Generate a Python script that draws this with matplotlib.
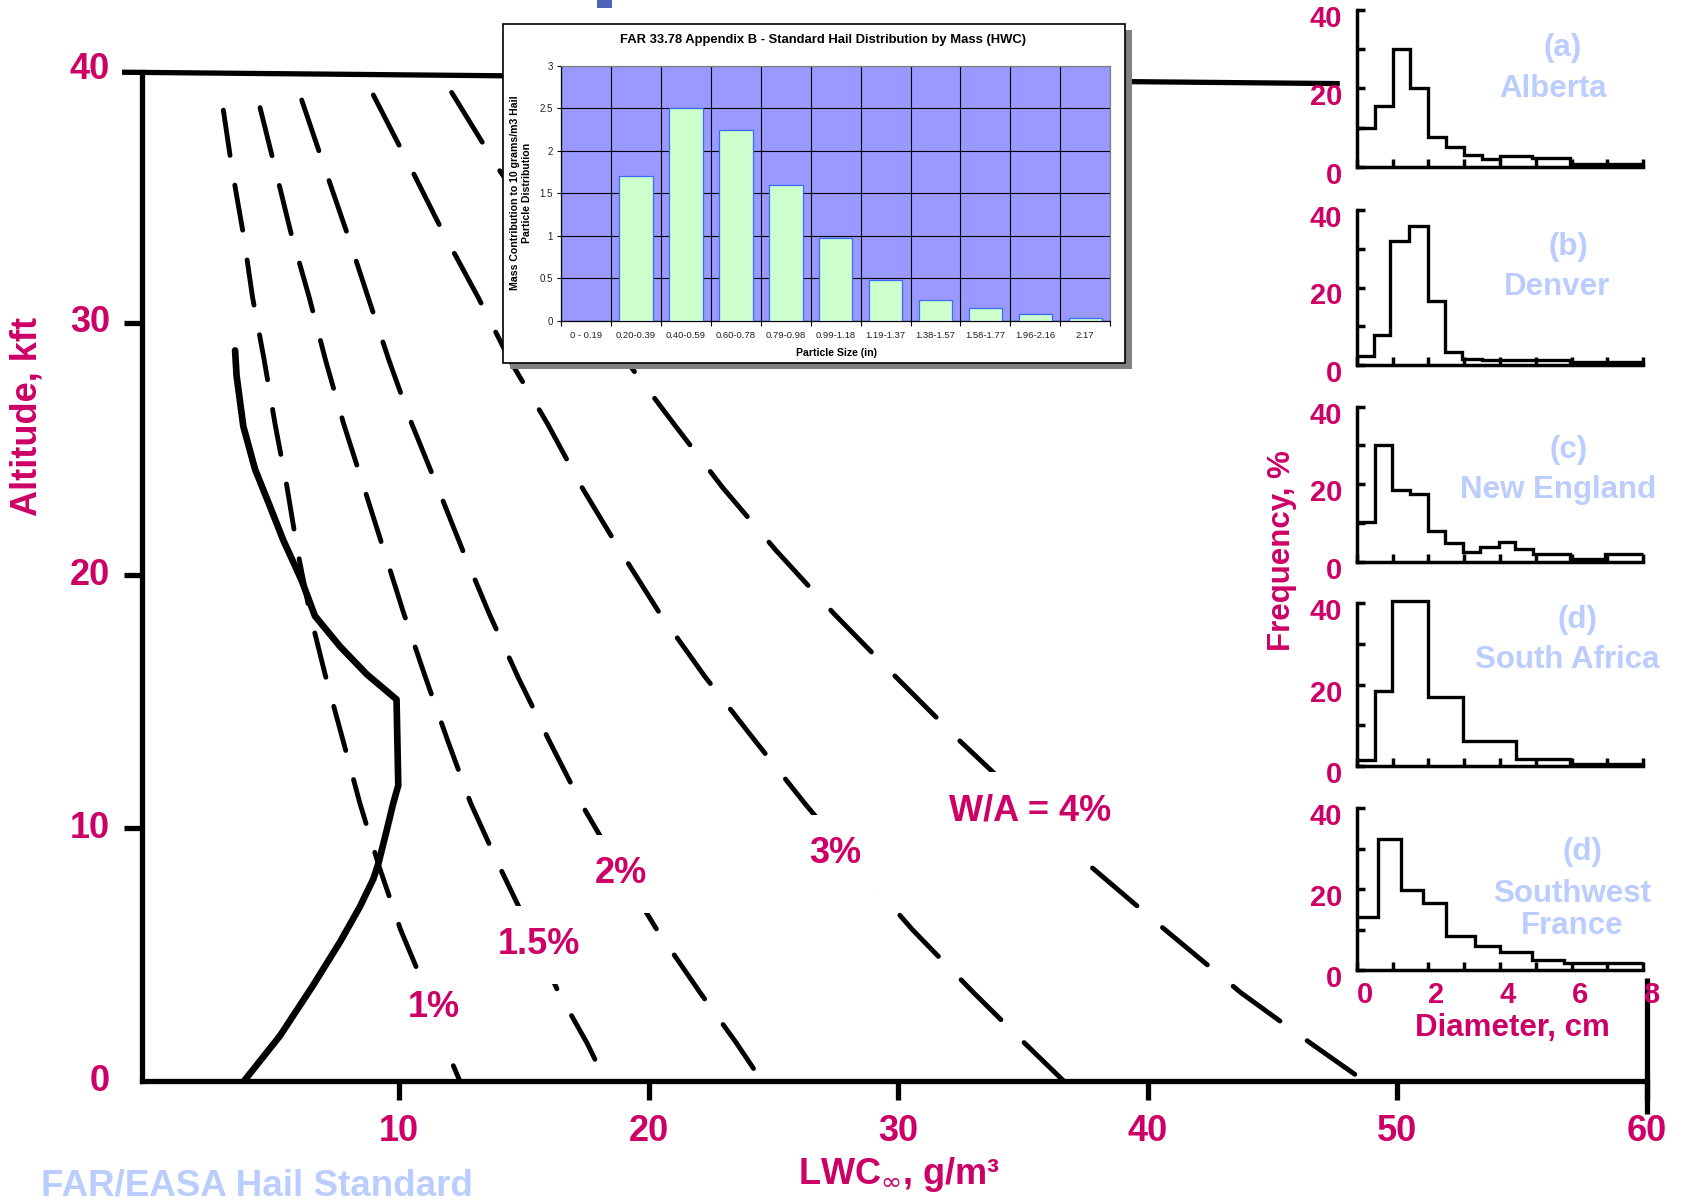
import numpy as np
import matplotlib
matplotlib.use("Agg")
import matplotlib.pyplot as plt
from matplotlib.patches import Rectangle
from matplotlib.transforms import ScaledTranslation

plt.rcParams['font.family'] = ['Liberation Sans', 'DejaVu Sans']

PINK = '#CC0066'
LBLUE = '#BBCCFF'

# ---------------- main chart: W/A curves (altitude kft vs LWC g/m3) ----------------
wa_labels = ['1%', '1.5%', '2%', '3%', 'W/A = 4%']
wa_label_lwc = [11.4, 15.6, 18.9, 27.5, 35.3]
wa_label_alt = [2.9, 5.4, 8.2, 9.0, 10.7]

alt_1 = [38.4, 36.0, 33.5, 31.0, 28.5, 26.0, 23.5, 21.0, 18.5, 16.0, 13.5, 11.0, 8.5, 6.0, 3.5, 1.5, 0.0]
lwc_1 = [2.96, 3.32, 3.76, 4.13, 4.60, 5.03, 5.51, 5.93, 6.43, 7.06, 7.75, 8.43, 9.20, 10.06, 11.12, 11.80, 12.44]

alt_15 = [38.5, 36.0, 33.5, 31.0, 28.5, 26.0, 23.5, 21.0, 18.5, 16.0, 13.5, 11.0, 8.5, 6.0, 3.5, 1.5, 0.0]
lwc_15 = [4.43, 5.06, 5.68, 6.40, 7.06, 7.78, 8.59, 9.39, 10.19, 11.05, 11.94, 12.87, 14.02, 15.24, 16.40, 17.54, 18.28]

alt_2 = [38.8, 36.0, 33.5, 31.0, 28.5, 26.0, 23.5, 21.0, 18.5, 16.0, 13.5, 11.0, 8.5, 6.0, 3.5, 1.5, 0.0]
lwc_2 = [6.10, 7.06, 7.93, 8.76, 9.60, 10.51, 11.54, 12.55, 13.61, 14.76, 16.00, 17.29, 18.77, 20.33, 22.07, 23.53, 24.55]

alt_3 = [39.0, 36.0, 33.5, 31.0, 28.5, 26.0, 23.5, 21.0, 18.5, 16.0, 13.5, 11.0, 8.5, 6.0, 3.5, 1.5, 0.0]
lwc_3 = [8.97, 10.53, 11.80, 13.17, 14.45, 15.95, 17.32, 18.85, 20.45, 22.26, 24.24, 26.25, 28.36, 30.57, 33.03, 35.08, 36.65]

alt_4 = [39.1, 36.0, 33.5, 31.0, 28.5, 26.0, 23.5, 21.0, 18.5, 16.0, 13.5, 11.0, 8.5, 6.0, 3.5, 1.5, 0.0]
lwc_4 = [12.11, 14.04, 15.80, 17.26, 19.10, 21.01, 22.95, 25.10, 27.42, 29.90, 32.43, 35.12, 37.71, 40.69, 43.74, 46.54, 48.70]

# solid curve
alt_solid = [28.9, 27.9, 25.9, 24.2, 22.9, 21.4, 19.8, 18.4, 17.2, 16.1, 15.1, 11.7, 11.0, 9.9, 8.6, 8.0, 6.9, 5.5, 3.8, 1.8, 0.0]
lwc_solid = [3.43, 3.49, 3.76, 4.23, 4.76, 5.36, 6.10, 6.63, 7.63, 8.70, 9.90, 9.97, 9.77, 9.50, 9.17, 8.97, 8.43, 7.63, 6.56, 5.23, 3.78]

main_xticks = [10, 20, 30, 40, 50, 60]
main_yticks = [0, 10, 20, 30, 40]

# ---------------- inset: FAR 33.78 standard hail distribution ----------------
inset_cats = ['0 - 0.19', '0.20-0.39', '0.40-0.59', '0.60-0.78', '0.79-0.98', '0.99-1.18',
              '1.19-1.37', '1.38-1.57', '1.58-1.77', '1.96-2.16', '2.17']
inset_mass = [0.0, 1.70, 2.50, 2.25, 1.60, 0.97, 0.48, 0.25, 0.15, 0.08, 0.03]
inset_yticks = [0, 0.5, 1, 1.5, 2, 2.5, 3]
inset_yticklabels = ['0', '0.5', '1', '1.5', '2', '2.5', '3']

# ---------------- hail size histograms (frequency % vs diameter cm) ----------------
edges_a = [0, 0.5, 1.0, 1.5, 2.0, 2.5, 3.0, 3.5, 4.0, 4.9, 5.95, 8.0]
freq_a = [10, 15.5, 30, 20, 7.5, 5, 3, 2, 2.7, 2.2, 0.7]
edges_b = [0, 0.47, 0.93, 1.47, 1.98, 2.47, 2.93, 3.5, 5.95, 8.0]
freq_b = [2.2, 7.8, 32, 36, 16.4, 3.4, 1.6, 1.2, 0.8]
edges_c = [0, 0.5, 0.98, 1.49, 1.98, 2.47, 2.96, 3.44, 3.98, 4.42, 4.93, 5.95, 6.93, 8.0]
freq_c = [10.3, 30, 18.4, 17.5, 7.8, 4.9, 2.6, 3.9, 5.0, 3.3, 1.9, 0.6, 1.9]
edges_d = [0, 0.51, 0.98, 1.98, 2.98, 4.45, 5.96, 8.0]
freq_d = [1.3, 18.3, 40.5, 17, 6.1, 1.7, 0.4]
edges_e = [0, 0.6, 1.25, 1.84, 2.5, 3.3, 4.0, 4.9, 5.8, 8.0]
freq_e = [13, 32.5, 19.8, 16.5, 8.3, 6.0, 4.5, 2.5, 1.8]
hist_letters = ['(a)', '(b)', '(c)', '(d)', '(d)']
hist_names = ['Alberta', 'Denver', 'New England', 'South Africa', 'Southwest\nFrance']

W, H = 1682, 1200
fig = plt.figure(figsize=(W / 100, H / 100), dpi=100)


def fx(px):
    return px / W


def fy(py):
    return 1 - py / H


# ================= main axes =================
ax = fig.add_axes([0.08888, 0.09892, 0.89013, 0.84300])
ax.set_xlim(0, 60)
ax.set_ylim(0, 40)
ax.patch.set_visible(False)
for s in ['top', 'right']:
    ax.spines[s].set_visible(False)
ax.spines['left'].set_position(('data', -0.3))
ax.spines['left'].set_bounds(0, 39.9)
ax.spines['bottom'].set_bounds(-0.3, 60)
for s in ['left', 'bottom']:
    ax.spines[s].set_linewidth(3.8)
    ax.spines[s].set_capstyle('projecting')

ax.set_xticks(main_xticks, labels=[str(v) for v in main_xticks])
ax.set_yticks(main_yticks, labels=[str(v) for v in main_yticks])
ax.tick_params(axis='x', direction='out', length=14, width=3.8, pad=22,
               labelsize=26, labelcolor=PINK)
ax.tick_params(axis='y', direction='out', length=13, width=3.8, pad=10,
               labelsize=26, labelcolor=PINK)
for lbl in ax.get_xticklabels() + ax.get_yticklabels():
    lbl.set_fontweight('bold')
for lbl in ax.get_xticklabels():
    lbl.set_va('center')
for lbl in ax.get_yticklabels():
    lbl.set_va('center')
yt = ax.yaxis.get_major_ticks()
yt[0].tick1line.set_visible(False)
yt[-1].tick1line.set_visible(False)

# top frame line and partial right frame line
ax.plot([-1.1, 47.7], [39.9, 39.45], color='black', lw=3.8, clip_on=False,
        solid_capstyle='butt')
ax.plot([60, 60], [-1.3, 4.1], color='black', lw=3.8, clip_on=False,
        solid_capstyle='butt')

curves = [(lwc_1, alt_1, (9.4, 6.2)), (lwc_15, alt_15, (10.2, 6.3)),
          (lwc_2, alt_2, (11.0, 6.5)), (lwc_3, alt_3, (11.6, 6.7)),
          (lwc_4, alt_4, (12.0, 6.9))]
for lwc, alt, dash in curves:
    ax.plot(lwc, alt, color='black', lw=3.5, linestyle=(0, dash),
            dash_capstyle='round', clip_on=False, zorder=2)

ax.plot(lwc_solid, alt_solid, color='black', lw=4.8, solid_capstyle='round',
        solid_joinstyle='round', zorder=2.5)

for txt, x, y in zip(wa_labels, wa_label_lwc, wa_label_alt):
    ax.text(x, y, txt, ha='center', va='center', fontsize=26, fontweight='bold',
            color=PINK, zorder=5,
            bbox=dict(boxstyle='square,pad=0.6', fc='white', ec='none'))

fig.text(fx(27), fy(416), 'Altitude, kft', rotation=90, ha='center', va='center',
         fontsize=26, fontweight='bold', color=PINK)
fig.text(fx(899), fy(1175), r'LWC$_{\infty}$, g/m³', ha='center', va='center',
         fontsize=26, fontweight='bold', color=PINK)
fig.text(fx(41), 0.004, 'FAR/EASA Hail Standard', ha='left', va='baseline',
         fontsize=26.5, fontweight='bold', color=LBLUE)
fig.add_artist(Rectangle((fx(597), fy(8)), 15 / W, 8 / H, transform=fig.transFigure,
                         fc='#4F63B8', ec='none'))

# ================= inset =================
bx0, by0, bx1, by1 = 503.3, 24, 1125.3, 363.3
fig.add_artist(Rectangle((fx(bx0 + 7), fy(by1 + 6)), (bx1 - bx0) / W, (by1 - by0) / H,
                         transform=fig.transFigure, fc='#808080', ec='none', zorder=1.8))
fig.add_artist(Rectangle((fx(bx0), fy(by1)), (bx1 - bx0) / W, (by1 - by0) / H,
                         transform=fig.transFigure, fc='white', ec='black', lw=1.2,
                         zorder=1.9))

axi = fig.add_axes([fx(561.2), fy(321), (1110.2 - 561.2) / W, (321 - 65.7) / H], zorder=3)
axi.set_facecolor('#9999FF')
xi = np.arange(len(inset_cats))
axi.bar(xi, inset_mass, width=0.67, color='#CCFFCC', edgecolor='#3A6BFF', lw=0.9, zorder=3)
axi.set_xlim(-0.5, len(inset_cats) - 0.5)
axi.set_ylim(0, 3)
axi.set_yticks(inset_yticks, labels=inset_yticklabels)
axi.set_xticks(xi, labels=inset_cats)
axi.set_xticks(np.arange(-0.5, len(inset_cats), 1), minor=True)
axi.tick_params(axis='x', which='major', length=0, pad=7, labelsize=6.8, labelcolor='#222222')
axi.tick_params(axis='x', which='minor', length=3.5, width=0.8, direction='out')
axi.tick_params(axis='y', length=3, width=0.8, pad=3, labelsize=7, labelcolor='#222222')
axi.yaxis.grid(True, color='black', lw=0.8)
axi.xaxis.grid(True, which='minor', color='black', lw=0.8)
axi.set_axisbelow(True)
for s in ['top', 'right']:
    axi.spines[s].set_color('#808080')
for s in ['left', 'bottom']:
    axi.spines[s].set_color('black')
for s in axi.spines.values():
    s.set_linewidth(0.9)

fig.text(fx(822.5), fy(39.7), 'FAR 33.78 Appendix B - Standard Hail Distribution by Mass (HWC)',
         ha='center', va='center', fontsize=9.4, fontweight='bold', zorder=4)
fig.text(fx(521), fy(193), 'Mass Contribution to 10 grams/m3 Hail\nParticle Distribution',
         rotation=90, ha='center', va='center', fontsize=7.6, fontweight='bold',
         linespacing=1.25, zorder=4)
fig.text(fx(836), fy(353), 'Particle Size (in)', ha='center', va='center', fontsize=7.6,
         fontweight='bold', zorder=4)

# ================= histograms =================
panels = [(edges_a, freq_a, 166.7, 10.0), (edges_b, freq_b, 365.0, 210.0),
          (edges_c, freq_c, 561.7, 406.7), (edges_d, freq_d, 765.7, 603.3),
          (edges_e, freq_e, 970.0, 808.3)]
letter_pos = [(1563, 48), (1568, 247), (1569, 450), (1577, 620), (1582, 852)]
name_pos = [(1553, 89), (1557, 287), (1558, 490), (1567, 660), (1572, 910)]
hx0, hx1 = 1356.7, 1643.3
down = ScaledTranslation(0, -0.09, fig.dpi_scale_trans)
right = ScaledTranslation(0.08, 0, fig.dpi_scale_trans)
for i, (edges, freq, y0, y40) in enumerate(panels):
    axh = fig.add_axes([fx(hx0), fy(y0), (hx1 - hx0) / W, (y0 - y40) / H])
    axh.patch.set_visible(False)
    axh.stairs(freq, edges, baseline=None, color='black', lw=2.4, clip_on=False)
    axh.set_xlim(0, 8)
    axh.set_ylim(0, 40)
    for s in ['top', 'right']:
        axh.spines[s].set_visible(False)
    for s in ['left', 'bottom']:
        axh.spines[s].set_linewidth(2.5)
    axh.set_yticks([0, 10, 20, 30, 40], labels=['0', '', '20', '', '40'])
    axh.set_xticks(range(9))
    if i == len(panels) - 1:
        axh.set_xticklabels(['0', '', '2', '', '4', '', '6', '', '8'])
    else:
        axh.set_xticklabels([''] * 9)
    axh.tick_params(direction='in', length=6, width=2.5)
    axh.tick_params(axis='y', pad=10.6, labelsize=21, labelcolor=PINK)
    axh.tick_params(axis='x', pad=18, labelsize=21, labelcolor=PINK)
    for lbl in axh.get_yticklabels():
        lbl.set_fontweight('bold')
        lbl.set_va('center')
        lbl.set_transform(lbl.get_transform() + down)
    for lbl in axh.get_xticklabels():
        lbl.set_fontweight('bold')
        lbl.set_va('center')
        lbl.set_transform(lbl.get_transform() + right)
    fig.text(fx(letter_pos[i][0]), fy(letter_pos[i][1]), hist_letters[i], ha='center',
             va='center', fontsize=22.5, fontweight='bold', color=LBLUE)
    fig.text(fx(name_pos[i][0]), fy(name_pos[i][1]), hist_names[i], ha='center',
             va='center', fontsize=22.5, fontweight='bold', color=LBLUE, linespacing=1.05)

fig.text(fx(1282), fy(551), 'Frequency, %', rotation=90, ha='center', va='center',
         fontsize=22.5, fontweight='bold', color=PINK)
fig.text(fx(1512), fy(1028), 'Diameter, cm', ha='center', va='center',
         fontsize=22.5, fontweight='bold', color=PINK)

fig.savefig('out.png', dpi=100)
